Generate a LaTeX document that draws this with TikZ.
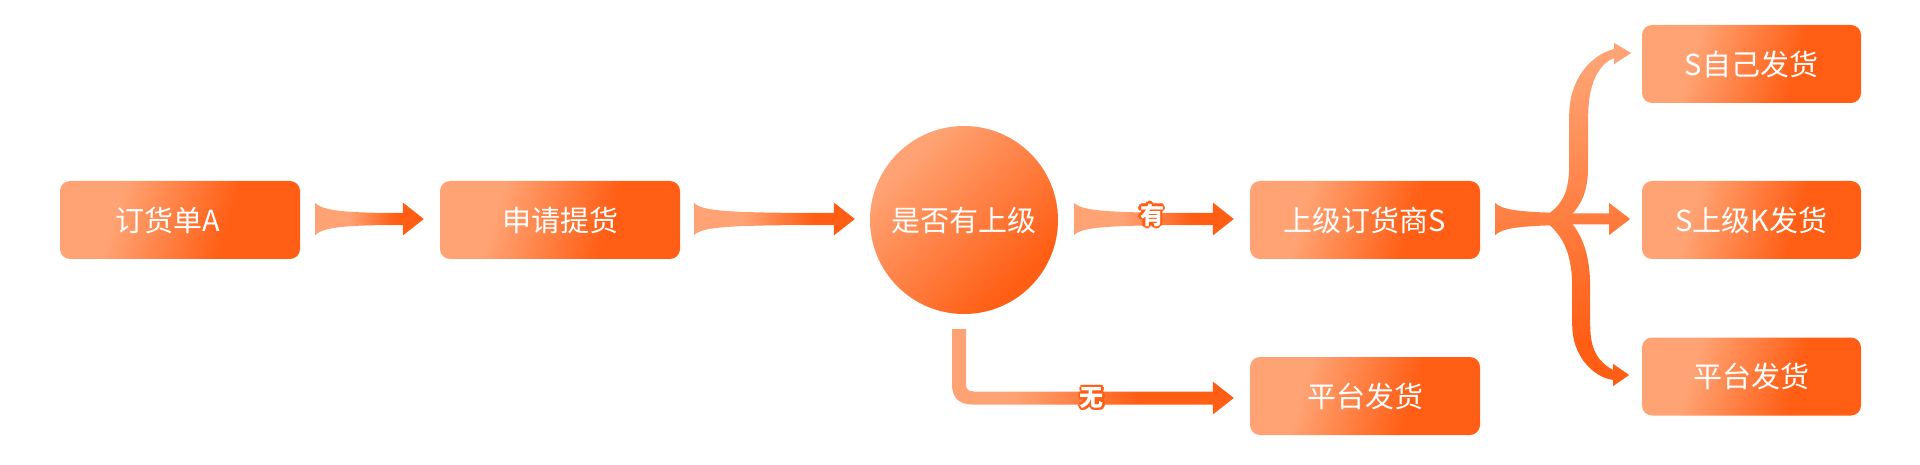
\documentclass[tikz,border=0pt]{standalone}
\usepackage{fontspec}
\newfontfamily\cjk{Noto Sans CJK SC}
\usetikzlibrary{calc}
\definecolor{cL}{HTML}{FFA374}
\definecolor{cD}{HTML}{FF5E14}
\pgfdeclarehorizontalshading{boxgrad}{100bp}{color(0bp)=(cL); color(34bp)=(cL); color(62bp)=(cD); color(100bp)=(cD)}
\pgfdeclarehorizontalshading{arrgrad}{100bp}{color(0bp)=(cL); color(40bp)=(cL); color(62bp)=(cD); color(100bp)=(cD)}
\pgfdeclarehorizontalshading{wugrad}{100bp}{color(0bp)=(cL); color(36bp)=(cL); color(58bp)=(cD); color(100bp)=(cD)}
\pgfdeclarehorizontalshading{circgrad}{100bp}{color(0bp)=(cL); color(28bp)=(cL); color(72bp)=(cD); color(100bp)=(cD)}
\pgfdeclarehorizontalshading{brgrad}{100bp}{color(0bp)=(cL); color(28bp)=(cL); color(70bp)=(cD); color(100bp)=(cD)}
\newcommand\halo[1]{\begingroup\setbox0\hbox{#1}%
\rlap{\color{cD}\kern2.3pt\copy0}\rlap{\color{cD}\kern-2.3pt\copy0}%
\rlap{\color{cD}\raise2.3pt\copy0}\rlap{\color{cD}\lower2.3pt\copy0}%
\rlap{\color{cD}\kern1.6pt\raise1.6pt\copy0}\rlap{\color{cD}\kern-1.6pt\raise1.6pt\copy0}%
\rlap{\color{cD}\kern1.6pt\lower1.6pt\copy0}\rlap{\color{cD}\kern-1.6pt\lower1.6pt\copy0}%
{\color{white}\copy0}\endgroup}
\newcommand\fatarrow[2]{%
 \path[shade, shading=arrgrad] let \p1=#1, \p2=#2 in
  (\x1,\y1+16pt) .. controls (\x1+8pt,\y1+8pt) and (\x1+32pt,\y1+6pt) .. (\x2-21pt,\y1+6pt)
  -- (\x2-21pt,\y1+16.5pt) -- (\x2,\y1) -- (\x2-21pt,\y1-16.5pt) -- (\x2-21pt,\y1-6pt)
  .. controls (\x1+32pt,\y1-6pt) and (\x1+8pt,\y1-8pt) .. (\x1,\y1-16pt) -- cycle;}
\tikzset{
 box/.style={shade, shading=boxgrad, shading angle=-17, rounded corners=10pt,
   minimum height=78pt, inner sep=0pt, text=white, font=\cjk\fontsize{29}{29}\selectfont},
 lbl/.style={inner sep=0pt, font=\cjk\bfseries\fontsize{24}{24}\selectfont},
 brshade/.style={shading=brgrad, shading angle=-80}
}
\begin{document}
\begin{tikzpicture}[x=1pt,y=-1pt]
\fill[white] (0,0) rectangle (1920,465);
\useasboundingbox (0,0) rectangle (1920,465);
% nodes
\node[box, minimum width=240pt] (b1) at (180,220) {\kern-24pt 订货单A};
\node[box, minimum width=240pt] (b2) at (560,220) {申请提货};
\node[circle, shade, shading=circgrad, shading angle=-45, minimum size=188pt, inner sep=0pt,
  text=white, font=\cjk\fontsize{29}{29}\selectfont] (c) at (964,220) {是否有上级};
\node[box, minimum width=230pt] (b3) at (1365,220) {上级订货商S};
\node[box, minimum width=230pt] (b4) at (1365,396) {平台发货};
\node[box, minimum width=219pt] (r1) at (1751.5,64) {S自己发货};
\node[box, minimum width=219pt] (r2) at (1751.5,220) {S上级K发货};
\node[box, minimum width=219pt] (r3) at (1751.5,376.5) {平台发货};
% straight arrows
\fatarrow{($(b1.east)+(15,-1)$)}{($(b2.west)+(-16,-1)$)}
\fatarrow{($(b2.east)+(14,-1)$)}{($(c.west)+(-15,-1)$)}
\fatarrow{($(c.east)+(16,-1)$)}{($(b3.west)+(-16,-1)$)}
% 无 arrow
\path[shade, shading=wugrad] let \p1=($(c.south)+(-5,15)$), \p2=($(b4.west)+(-16,2)$) in
 (\x1-7pt,\y1) -- (\x1-7pt,\y2+14pt) .. controls (\x1-7pt,\y2-2pt) and (\x1+2pt,\y2-6.5pt) .. (\x1+14pt,\y2-6.5pt)
 -- (\x2-21pt,\y2-6.5pt) -- (\x2-21pt,\y2-16.5pt) -- (\x2,\y2) -- (\x2-21pt,\y2+16.5pt) -- (\x2-21pt,\y2+6.5pt)
 -- (\x1+15pt,\y2+6.5pt) .. controls (\x1+9pt,\y2+6.5pt) and (\x1+7pt,\y2+9pt) .. (\x1+7pt,\y2+14pt)
 -- (\x1+7pt,\y1) -- cycle;
% branching arrow
\begin{scope}[shift={(b3.east)}]
 \begin{scope}
  \clip (15,-17) .. controls (22,-10) and (40,-8) .. (82,-7) -- (82,5) .. controls (40,6) and (22,8) .. (15,15) -- cycle;
  \shade[brshade] (10,-185) rectangle (155,172);
 \end{scope}
 \begin{scope}
  \clip (75,-6.5) -- (129,-6.5) -- (129,-17) -- (150,-1) -- (129,15) -- (129,4.5) -- (75,4.5) -- cycle;
  \shade[brshade] (10,-185) rectangle (155,172);
 \end{scope}
 \begin{scope}
  \clip (68,-6) .. controls (82,-16) and (89,-28) .. (89,-55) -- (89,-105)
   .. controls (89,-140) and (110,-165) .. (134,-171) -- (134,-177) -- (151,-167) -- (134,-156) -- (134,-162)
   .. controls (118,-156) and (108,-135) .. (108,-105) -- (108,-55)
   .. controls (108,-30) and (102,-17) .. (92,-6) -- cycle;
  \shade[brshade] (10,-185) rectangle (155,172);
 \end{scope}
 \begin{scope}
  \clip (68,4) .. controls (82,16) and (92,32) .. (92,68) -- (92,105)
   .. controls (92,135) and (112,157) .. (133,160) -- (133,166) -- (149,155) -- (133,144) -- (133,150)
   .. controls (118,142) and (110,130) .. (110,105) -- (110,68)
   .. controls (110,35) and (102,16) .. (92,4) -- cycle;
  \shade[brshade] (10,-185) rectangle (155,172);
 \end{scope}
\end{scope}
% labels
\node[lbl] (lyou) at ($(c.east)!0.5!(b3.west)+(-2,-5)$) {\halo{有}};
\node[lbl] (lwu) at ($(b4.west)+(-158,2)$) {\halo{无}};
\end{tikzpicture}
\end{document}
